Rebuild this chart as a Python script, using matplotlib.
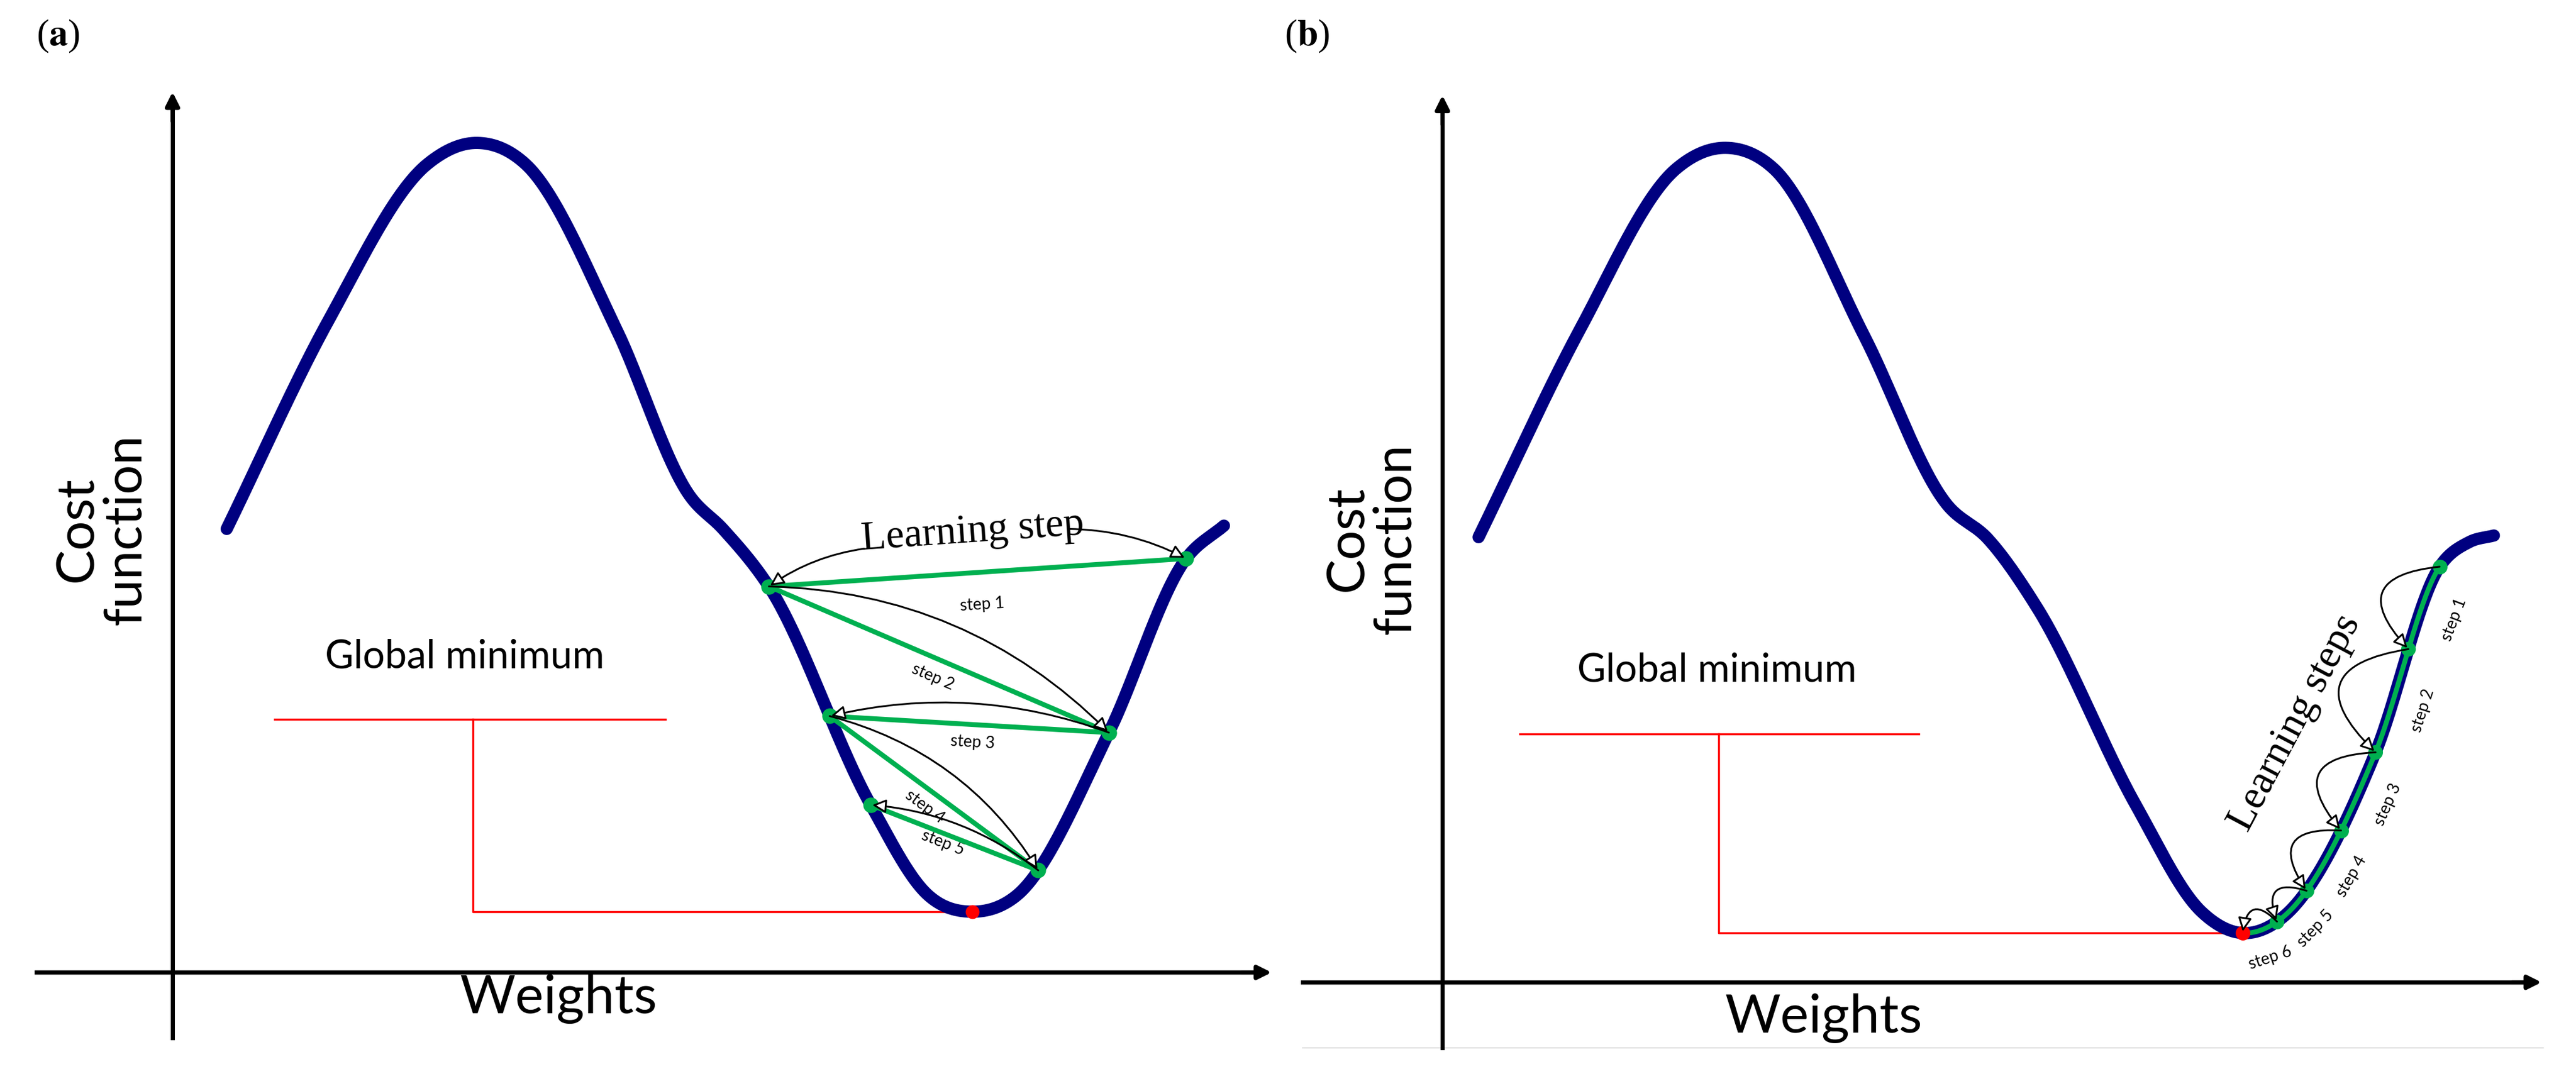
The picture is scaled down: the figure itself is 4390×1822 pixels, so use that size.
import numpy as np
import matplotlib
matplotlib.use("Agg")
import matplotlib.pyplot as plt
from matplotlib.patches import FancyArrowPatch

W, H = 4390, 1822
S = W / 1568.0  # reference read at 1568 px wide

# curve shape points (1568-wide coords)
curve_a_x = [138, 200, 260, 290, 320, 375, 420, 440, 468, 530, 565, 592, 619, 675, 722, 745]
curve_a_y = [322, 195, 100, 87, 100, 200, 302, 322, 357, 490, 545, 555, 545, 446, 340, 320]
curve_b_x = [900, 962, 1020, 1050, 1080, 1135, 1185, 1210, 1240, 1300, 1340, 1365, 1390, 1446, 1485, 1503, 1518]
curve_b_y = [327, 200, 103, 90, 103, 205, 307, 328, 370, 490, 555, 568, 558, 458, 345, 330, 326]

# gradient step positions (x on curve)
steps_a_x = [722, 468, 675, 505, 632, 530]
min_a_x = 592
steps_b_x = [1485, 1466, 1446, 1425, 1404, 1386, 1365]

step_labels_a = ['step 1', 'step 2', 'step 3', 'step 4', 'step 5']
step_labels_b = ['step 1', 'step 2', 'step 3', 'step 4', 'step 5', 'step 6']

BLUE = '#000080'
GREEN = '#00b050'
RED = '#ff0000'
SANS = ['Lato', 'DejaVu Sans']
SERIF = ['Liberation Serif', 'DejaVu Serif']
plt.rcParams['mathtext.fontset'] = 'stix'


def hermite(xs, ys):
    x = np.array(xs, float)
    y = np.array(ys, float)
    m = np.gradient(y, x)
    def f(xq):
        xq = np.atleast_1d(np.asarray(xq, float))
        i = np.clip(np.searchsorted(x, xq) - 1, 0, len(x) - 2)
        h = x[i + 1] - x[i]
        t = (xq - x[i]) / h
        return ((2 * t**3 - 3 * t**2 + 1) * y[i] + (t**3 - 2 * t**2 + t) * h * m[i]
                + (-2 * t**3 + 3 * t**2) * y[i + 1] + (t**3 - t**2) * h * m[i + 1])
    return f


def pt(f, x):
    return np.array([x * S, f(x)[0] * S])


def ang(p, q):
    return np.degrees(np.arctan2(-(q[1] - p[1]), q[0] - p[0]))


fig = plt.figure(figsize=(W / 100, H / 100), dpi=100)
ax = fig.add_axes([0, 0, 1, 1])
ax.set_xlim(0, W)
ax.set_ylim(H, 0)
ax.axis('off')


def axes_arrows(x0, ybot, ytop, y0, xl, xr):
    ax.plot([x0 * S, x0 * S], [ybot * S, (ytop + 10) * S], color='k', lw=5)
    ax.plot([xl * S, (xr - 10) * S], [y0 * S, y0 * S], color='k', lw=5)
    ax.annotate('', xy=(x0 * S, ytop * S), xytext=(x0 * S, (ytop + 20) * S),
                arrowprops=dict(arrowstyle='-|>,head_length=1.4,head_width=0.7', color='k', lw=5))
    ax.annotate('', xy=(xr * S, y0 * S), xytext=((xr - 20) * S, y0 * S),
                arrowprops=dict(arrowstyle='-|>,head_length=1.4,head_width=0.7', color='k', lw=5))


def arc(p, q, rad, lw=2.2):
    ax.add_patch(FancyArrowPatch(p, q, connectionstyle='arc3,rad=%s' % rad,
                                 arrowstyle='-|>,head_length=14,head_width=7',
                                 fc='white', ec='k', lw=lw, shrinkA=0, shrinkB=2, zorder=6))


# ---------- panel a ----------
axes_arrows(105, 632, 55, 592, 22, 775)
fa = hermite(curve_a_x, curve_a_y)
xa = np.linspace(curve_a_x[0], curve_a_x[-1], 1500)
ax.plot(xa * S, fa(xa) * S, color=BLUE, lw=15, solid_capstyle='round', zorder=3)
pa = [pt(fa, x) for x in steps_a_x]
ma = pt(fa, min_a_x)
for i in range(len(pa) - 1):
    ax.plot([pa[i][0], pa[i + 1][0]], [pa[i][1], pa[i + 1][1]], color=GREEN, lw=6, zorder=4)
for p in pa:
    ax.plot(*p, 'o', color=GREEN, ms=18, zorder=5)
ax.plot(*ma, 'o', color=RED, ms=16, zorder=5)
rads = [-0.2, 0.15, -0.2, 0.15]
for i in range(1, len(pa) - 1):
    arc(pa[i], pa[i + 1], rads[i - 1])
lab_pos_a = [(598, 368), (568, 412), (592, 452), (563, 491), (574, 513)]
for i, (lab, (x, y)) in enumerate(zip(step_labels_a, lab_pos_a)):
    a = ang(pa[i], pa[i + 1])
    a = a + 180 if a < -90 or a > 90 else a
    ax.text(x * S, y * S, lab, family=SANS, fontsize=20, ha='center', va='center', rotation=a)
ax.text(592 * S, 324 * S, 'Learning step', family=SERIF, fontsize=50, ha='center', va='center',
        rotation=4)
arc((526 * S, 334 * S), pa[1], 0.12)
arc((650 * S, 322 * S), pa[0], -0.12)
# global minimum marker
ax.plot([167 * S, 405 * S], [438 * S, 438 * S], color=RED, lw=2.5)
ax.plot([288 * S, 288 * S, ma[0]], [438 * S, ma[1], ma[1]], color=RED, lw=2.5, zorder=2)
ax.text(283 * S, 400 * S, 'Global minimum', family=SANS, fontsize=48, ha='center', va='center')
ax.text(62 * S, 322 * S, 'Cost\nfunction', family=SANS, fontsize=64, ha='center', va='center',
        rotation=90, linespacing=1.0)
ax.text(340 * S, 608 * S, 'Weights', family=SANS, fontsize=66, ha='center', va='center')
ax.text(22 * S, 22 * S, r'($\mathbf{a}$)', family=SERIF, fontsize=46, ha='left', va='center')

# ---------- panel b ----------
ax.plot([793 * S, 1548 * S], [638 * S, 638 * S], color='#dddddd', lw=1.5)
axes_arrows(878, 638, 57, 598, 793, 1548)
fb = hermite(curve_b_x, curve_b_y)
xb = np.linspace(curve_b_x[0], curve_b_x[-1], 1500)
ax.plot(xb * S, fb(xb) * S, color=BLUE, lw=15, solid_capstyle='round', zorder=3)
pb = [pt(fb, x) for x in steps_b_x]
xg = np.linspace(steps_b_x[-1], steps_b_x[0], 200)
ax.plot(xg * S, fb(xg) * S, color=GREEN, lw=6, zorder=4)
for p in pb[:-1]:
    ax.plot(*p, 'o', color=GREEN, ms=17, zorder=5)
ax.plot(*pb[-1], 'o', color=RED, ms=17, zorder=5)
for i in range(len(pb) - 1):
    arc(pb[i], pb[i + 1], 1.0)
for i, lab in enumerate(step_labels_b):
    m = (pb[i] + pb[i + 1]) / 2
    a = ang(pb[i + 1], pb[i])
    nrm = np.array([np.sin(np.radians(a)), np.cos(np.radians(a))])
    ax.text(m[0] + nrm[0] * 55, m[1] + nrm[1] * 55, lab, family=SANS, fontsize=20,
            ha='center', va='center', rotation=a)
ax.text(1397 * S, 440 * S, 'Learning steps', family=SERIF, fontsize=50, ha='center', va='center',
        rotation=62)
ax.plot([925 * S, 1168 * S], [447 * S, 447 * S], color=RED, lw=2.5)
ax.plot([1046 * S, 1046 * S, pb[-1][0]], [447 * S, pb[-1][1], pb[-1][1]], color=RED, lw=2.5, zorder=2)
ax.text(1045 * S, 408 * S, 'Global minimum', family=SANS, fontsize=48, ha='center', va='center')
ax.text(835 * S, 328 * S, 'Cost\nfunction', family=SANS, fontsize=64, ha='center', va='center',
        rotation=90, linespacing=1.0)
ax.text(1110 * S, 620 * S, 'Weights', family=SANS, fontsize=66, ha='center', va='center')
ax.text(782 * S, 22 * S, r'($\mathbf{b}$)', family=SERIF, fontsize=46, ha='left', va='center')

fig.savefig('out.png', dpi=100, facecolor='white')
